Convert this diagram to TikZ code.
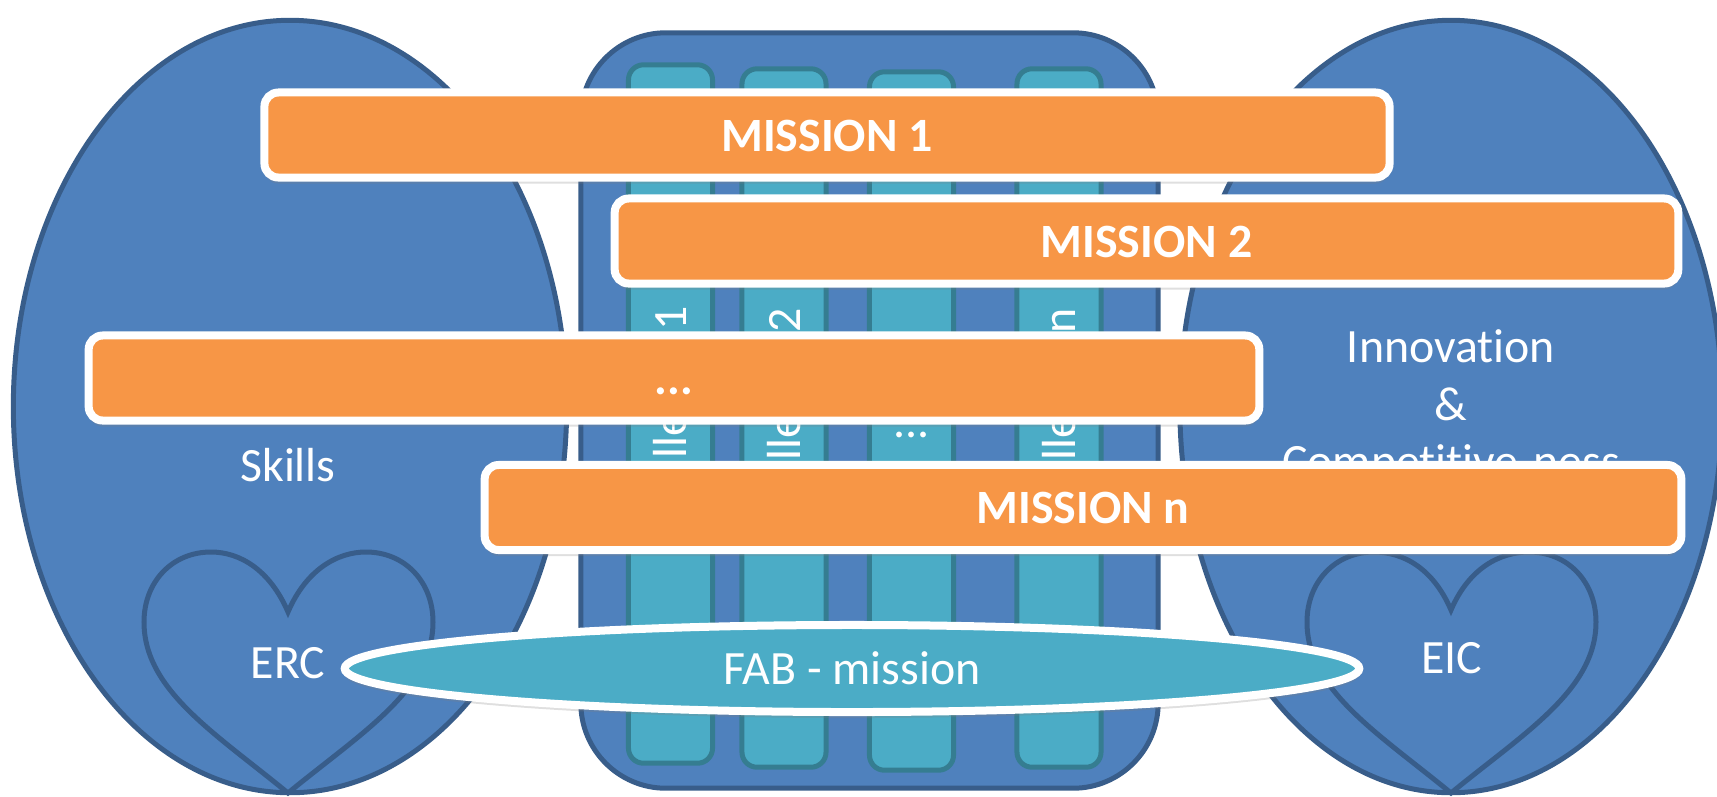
\documentclass[tikz,border=0pt]{standalone}
\usepackage{fontspec}
\setmainfont[Ligatures=NoCommon]{Carlito}
\usetikzlibrary{shapes.geometric, shadows}
\definecolor{panelblue}{HTML}{4F81BD}
\definecolor{paneledge}{HTML}{385D8A}
\definecolor{tealfill}{HTML}{4BACC6}
\definecolor{tealedge}{HTML}{357D91}
\definecolor{missionfill}{HTML}{F79646}

\begin{document}
\begin{tikzpicture}[
    x=0.01cm, y=-0.01cm,
    pillar/.style={ellipse, draw=paneledge, fill=panelblue, line width=0.05cm, minimum height=7.72cm, inner sep=0pt},
    frame/.style={rectangle, draw=paneledge, fill=panelblue, line width=0.05cm, rounded corners=0.85cm, minimum width=5.77cm, minimum height=7.55cm},
    challenge/.style={rectangle, draw=tealedge, fill=tealfill, line width=0.05cm, rounded corners=0.15cm, minimum width=0.84cm, minimum height=6.98cm, inner sep=0pt},
    mission/.style={rectangle, draw=white, fill=missionfill, line width=0.08cm, rounded corners=0.14cm, minimum height=0.85cm, inner sep=0pt, text=white, text height=0.32cm, text depth=0pt, font=\fontsize{13.6}{15}\selectfont\bfseries, drop shadow={shadow xshift=0cm, shadow yshift=-0.06cm, opacity=0.25}},
    label/.style={text=white, align=center, inner sep=0pt, font=\fontsize{13.6}{16.4}\selectfont},
    heartline/.style={draw=paneledge, line width=0.05cm}
]
\clip (0,0) rectangle (1717,796);

% Left and right pillars
\node[pillar, minimum width=5.53cm] (skills) at (290,406.5) {};
\node[pillar, minimum width=5.42cm] (innovation) at (1451,406.5) {};
\node[label] (skills_text) at (288,465) {Skills};
\node[label] (innovation_text) at (1451,407.5) {Innovation\\\&\\Competitive-ness};

% Hearts
\draw[heartline] (288,612) .. controls (270,570) and (240,552) .. (211,552)
    .. controls (172,552) and (144,582) .. (144,622)
    .. controls (144,690) and (215,733) .. (288,793)
    .. controls (361,733) and (433,690) .. (433,622)
    .. controls (433,582) and (405,552) .. (366,552)
    .. controls (337,552) and (306,570) .. (288,612) -- cycle;
\draw[heartline] (1451,610) .. controls (1433,568) and (1403,552) .. (1374,552)
    .. controls (1335,552) and (1307,582) .. (1307,622)
    .. controls (1307,690) and (1378,733) .. (1451,793)
    .. controls (1524,733) and (1596,690) .. (1596,622)
    .. controls (1596,582) and (1568,552) .. (1529,552)
    .. controls (1500,552) and (1469,568) .. (1451,610) -- cycle;
\node[label] (erc) at (288,663) {ERC};
\node[label] (eic) at (1452,658) {EIC};

% Middle frame with the challenges
\node[frame] (middle) at (869.5,410.5) {};
\node[challenge] (challenge1) at (670.5,414) {};
\node[challenge] (challenge2) at (784,418) {};
\node[challenge] (challenge3) at (911.5,421) {};
\node[challenge] (challengen) at (1059,418) {};
\node[label, rotate=90] (challenge1_text) at (674.5,419) {Challenge 1};
\node[label, rotate=90] (challenge2_text) at (788,421) {Challenge 2};
\node[label] (challenge3_text) at (911.5,435) {...};
\node[label, rotate=90] (challengen_text) at (1063,421) {Challenge n};

% Missions
\node[mission, minimum width=11.245cm] (mission1) at (827,135) {MISSION 1};
\node[mission, minimum width=10.63cm] (mission2) at (1146.5,241) {MISSION 2};
\node[mission, minimum width=11.7cm] (mission3) at (674,378) {...};
\node[mission, minimum width=11.96cm] (missionn) at (1083,507.5) {MISSION n};

% FAB
\node[ellipse, draw=white, fill=tealfill, line width=0.08cm, minimum width=10.14cm, minimum height=0.87cm, inner sep=0pt, text=white, font=\fontsize{13.6}{15}\selectfont, drop shadow={shadow xshift=0cm, shadow yshift=-0.06cm, opacity=0.25}] (fab) at (852,668.5) {FAB - mission};
\end{tikzpicture}
\end{document}
